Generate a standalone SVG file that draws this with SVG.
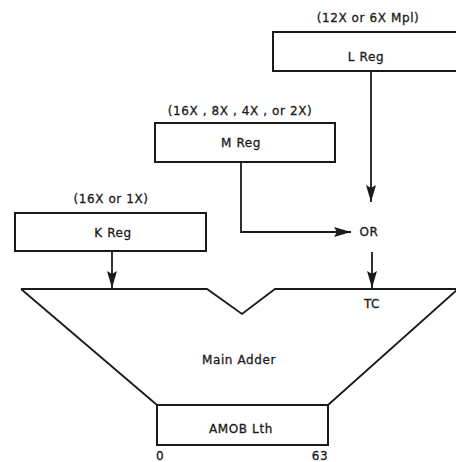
<svg xmlns="http://www.w3.org/2000/svg" width="456" height="462" viewBox="0 0 456 462">
<style>
text{font-family:"DejaVu Sans","Liberation Sans",sans-serif;font-size:12px;fill:#1a1a1a;stroke:#1a1a1a;stroke-width:0.3;text-anchor:middle;letter-spacing:0.6px}
.box{fill:#fff;stroke:#1a1a1a;stroke-width:2}
.ln{fill:none;stroke:#1a1a1a;stroke-width:1.8}
</style>
<defs>
<marker id="ah" markerUnits="userSpaceOnUse" markerWidth="18" markerHeight="12" viewBox="0 0 18 12" refX="17" refY="6" orient="auto">
<path d="M0,1 L17,6 L0,11 L3,6 Z" fill="#1a1a1a"/>
</marker>
</defs>
<rect width="456" height="462" fill="#fff"/>
<g id="connectors">
<path class="ln" d="M371,71 V202" marker-end="url(#ah)"/>
<path class="ln" d="M241,162 V232 H351" marker-end="url(#ah)"/>
<path class="ln" d="M372,252 V288" marker-end="url(#ah)"/>
<path class="ln" d="M112,251 V288" marker-end="url(#ah)"/>
</g>
<g id="main-adder">
<path class="ln" stroke-width="2" d="M21,289 H207 L242,314 L275,289 H458 L328,405 M157,405 L21,289"/>
<text x="239" y="364">Main Adder</text>
<text x="372" y="308">TC</text>
</g>
<g id="amob">
<rect class="box" x="157" y="405" width="171" height="40"/>
<text x="241" y="433">AMOB Lth</text>
<text x="160" y="460">0</text>
<text x="320" y="460">63</text>
</g>
<g id="l-reg">
<text x="368" y="22">(12X or 6X Mpl)</text>
<rect class="box" x="273" y="32" width="190" height="39"/>
<text x="366" y="61">L Reg</text>
</g>
<g id="m-reg">
<text x="240" y="115">(16X , 8X , 4X , or 2X)</text>
<rect class="box" x="155" y="123" width="180" height="39"/>
<text x="241" y="147">M Reg</text>
</g>
<g id="k-reg">
<text x="111" y="203">(16X or 1X)</text>
<rect class="box" x="15" y="213" width="191" height="38"/>
<text x="113" y="237">K Reg</text>
</g>
<g id="or">
<text x="369" y="236">OR</text>
</g>
</svg>
